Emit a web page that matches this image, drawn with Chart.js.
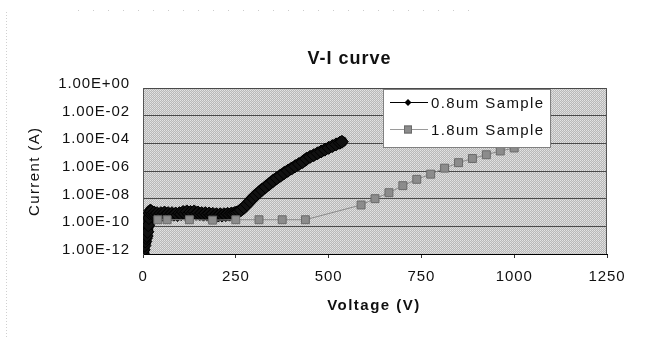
<!DOCTYPE html>
<html>
<head>
<meta charset="utf-8">
<script src="https://cdn.jsdelivr.net/npm/chart.js@4.4.0/dist/chart.umd.min.js"></script>
<style>
html,body{margin:0;padding:0;background:#fff;}
#wrap{width:656px;height:339px;position:relative;}
</style>
</head>
<body>
<div id="wrap"><canvas id="c" width="656" height="339"></canvas></div>
<script>
// ---- data ----
const chartTitle = "V-I curve";
const xAxisTitle = "Voltage (V)";
const yAxisTitle = "Current (A)";
const seriesNames = ["0.8um Sample", "1.8um Sample"];

const voltage08 = [0, 2, 4, 6, 8, 10, 12, 14, 16, 18, 20,
  22, 26, 30, 34, 38, 43, 48, 53, 58, 63, 68, 73, 78, 83, 88, 93, 98, 103, 108, 113,
  118, 123, 128, 133, 138, 143, 148, 153, 158, 163, 168, 173, 178, 183, 188, 193, 198, 203,
  208, 213, 218, 223, 228, 233, 238, 243, 248, 253, 258,
  264, 272, 280, 288, 296, 304, 312, 320, 330, 340, 350, 360, 370, 380, 390, 400, 410, 420, 430, 440,
  450, 460, 470, 480, 490, 500, 510, 520, 530, 536];
const current08 = [1.0e-12, 2.0e-12, 4e-12, 8e-12, 1.4e-11, 2.0e-11, 4e-11, 1.2e-10, 4e-10, 9e-10, 1.4e-9,
  1.2e-9, 8e-10, 1.0e-9, 7e-10, 9e-10, 6.5e-10, 9e-10, 7e-10, 1.0e-9, 7e-10, 9e-10, 6.5e-10, 9e-10, 7e-10,
  8.5e-10, 6.5e-10, 9e-10, 7.5e-10, 1.1e-9, 8e-10,
  1.2e-9, 8e-10, 1.1e-9, 8.5e-10, 1.2e-9, 8e-10, 1.0e-9, 7.5e-10, 9e-10, 7e-10, 9e-10, 7e-10, 8.5e-10,
  6.5e-10, 8e-10, 6e-10, 7.5e-10, 6e-10,
  7.5e-10, 6e-10, 7.5e-10, 6.5e-10, 8e-10, 7e-10, 8.5e-10, 8e-10, 9.5e-10, 1.0e-9, 1.2e-9,
  1.5e-9, 2.3e-9, 3.8e-9, 6.5e-9, 1.1e-8, 1.8e-8, 2.8e-8, 4.3e-8, 7e-8, 1.15e-7,
  1.9e-7, 3e-7, 4.6e-7, 7e-7, 1.05e-6, 1.5e-6, 2.2e-6, 3.2e-6, 4.5e-6, 7.5e-6,
  1.05e-5, 1.4e-5, 1.9e-5, 2.6e-5, 3.5e-5, 4.7e-5, 6.3e-5, 8.4e-5, 1.1e-4, 1.3e-4];

const voltage18 = [40, 65, 125, 187.5, 250, 312.5, 375, 437.5, 587.5, 625, 662.5, 700, 737.5,
  775, 812.5, 850, 887.5, 925, 962.5, 1000];
const current18 = [3e-10, 3e-10, 3e-10, 2.8e-10, 3e-10, 3e-10, 3e-10, 3e-10, 3.5e-9, 1e-8, 2.7e-8,
  8.7e-8, 2.5e-7, 5.9e-7, 1.6e-6, 4e-6, 8e-6, 1.5e-5, 2.8e-5, 4.6e-5];

const xTickValues = [0, 250, 500, 750, 1000, 1250];
const yTickValues = [1e-12, 1e-10, 1e-8, 1e-6, 1e-4, 1e-2, 1];
const yTickLabels = ["1.00E-12", "1.00E-10", "1.00E-08", "1.00E-06", "1.00E-04", "1.00E-02", "1.00E+00"];

// ---- styling helpers ----
const FONT = "Arial, 'Liberation Sans', sans-serif";

function makePattern() {
  const p = document.createElement('canvas');
  p.width = 2; p.height = 2;
  const c = p.getContext('2d');
  c.fillStyle = '#e4e4e4'; c.fillRect(0, 0, 1, 1);
  c.fillStyle = '#b6b6b6'; c.fillRect(1, 0, 1, 1);
  c.fillStyle = '#bababa'; c.fillRect(0, 1, 1, 1);
  c.fillStyle = '#d8d8d8'; c.fillRect(1, 1, 1, 1);
  return p;
}

const decor = {
  id: 'decor',
  beforeDraw(chart) {
    const ctx = chart.ctx, a = chart.chartArea;
    ctx.save();
    ctx.fillStyle = ctx.createPattern(makePattern(), 'repeat');
    ctx.fillRect(a.left, a.top, a.right - a.left, a.bottom - a.top);
    // faint scan edges
    ctx.strokeStyle = '#d0d0d0';
    ctx.lineWidth = 1;
    ctx.setLineDash([1, 2]);
    ctx.beginPath(); ctx.moveTo(6.5, 12); ctx.lineTo(6.5, 339); ctx.stroke();
    ctx.setLineDash([1, 14]);
    ctx.strokeStyle = '#cccccc';
    ctx.beginPath(); ctx.moveTo(78, 10.5); ctx.lineTo(482, 10.5); ctx.stroke();
    ctx.restore();
    ctx.letterSpacing = '0.9px';
  },
  afterDraw(chart) {
    const ctx = chart.ctx, a = chart.chartArea;
    ctx.save();
    // right border of plot
    ctx.strokeStyle = '#555';
    ctx.lineWidth = 1;
    ctx.beginPath();
    ctx.moveTo(Math.round(a.right) - 0.5, a.top);
    ctx.lineTo(Math.round(a.right) - 0.5, a.bottom);
    ctx.stroke();

    // legend
    const lx = 383, ly = 89, lw = 168, lh = 59;
    ctx.fillStyle = '#fff';
    ctx.fillRect(lx, ly, lw, lh);
    ctx.strokeStyle = '#808080';
    ctx.strokeRect(lx + 0.5, ly + 0.5, lw - 1, lh - 1);
    // row 1
    ctx.strokeStyle = '#000';
    ctx.beginPath(); ctx.moveTo(390, 102.5); ctx.lineTo(428, 102.5); ctx.stroke();
    ctx.fillStyle = '#000';
    ctx.beginPath();
    ctx.moveTo(408, 99); ctx.lineTo(411.5, 102.5); ctx.lineTo(408, 106); ctx.lineTo(404.5, 102.5);
    ctx.closePath(); ctx.fill();
    // row 2
    ctx.strokeStyle = '#9a9a9a';
    ctx.beginPath(); ctx.moveTo(390, 129.5); ctx.lineTo(428, 129.5); ctx.stroke();
    ctx.fillStyle = '#8c8c8c';
    ctx.fillRect(404, 125.5, 8, 8);
    ctx.strokeStyle = '#6a6a6a';
    ctx.strokeRect(404.5, 126, 7, 7);
    ctx.fillStyle = '#111';
    ctx.font = '15px ' + FONT;
    ctx.letterSpacing = '1.4px';
    ctx.textAlign = 'left';
    ctx.textBaseline = 'alphabetic';
    ctx.fillText(seriesNames[0], 431, 107.5);
    ctx.fillText(seriesNames[1], 431, 134.5);

    // chart title
    ctx.font = 'bold 18px ' + FONT;
    ctx.letterSpacing = '1px';
    ctx.textAlign = 'center';
    ctx.fillText(chartTitle, 349.5, 64);

    // x axis title
    ctx.font = 'bold 15px ' + FONT;
    ctx.letterSpacing = '1.5px';
    ctx.fillText(xAxisTitle, 374, 309.5);

    // y axis title
    ctx.font = '15px ' + FONT;
    ctx.letterSpacing = '1.4px';
    ctx.translate(39, 172);
    ctx.rotate(-Math.PI / 2);
    ctx.fillText(yAxisTitle, 0.7, 0);
    ctx.restore();
  }
};

Chart.defaults.color = '#111';
Chart.defaults.font.family = FONT;

new Chart(document.getElementById('c'), {
  type: 'scatter',
  data: {
    datasets: [
      {
        label: seriesNames[0],
        data: voltage08.map((v, i) => ({ x: v, y: current08[i] })),
        showLine: true,
        borderColor: '#050505',
        borderWidth: 11,
        borderJoinStyle: 'round',
        borderCapStyle: 'round',
        backgroundColor: '#111',
        pointStyle: 'rectRot',
        pointRadius: 6.5,
        pointBorderWidth: 1,
        pointBorderColor: '#000',
        pointBackgroundColor: '#111',
        order: 2
      },
      {
        label: seriesNames[1],
        data: voltage18.map((v, i) => ({ x: v, y: current18[i] })),
        showLine: true,
        borderColor: '#8a8a8a',
        borderWidth: 1,
        backgroundColor: '#8c8c8c',
        pointStyle: 'rect',
        pointRadius: 5.6,
        pointBorderWidth: 1,
        pointBorderColor: '#6a6a6a',
        pointBackgroundColor: '#8c8c8c',
        order: 1
      }
    ]
  },
  options: {
    responsive: false,
    animation: false,
    devicePixelRatio: 1,
    layout: { padding: { top: 88, right: 49, left: 0, bottom: 0 } },
    plugins: {
      legend: { display: false },
      tooltip: { enabled: false },
      title: { display: false }
    },
    scales: {
      x: {
        type: 'linear',
        min: 0, max: 1250,
        afterBuildTicks: s => { s.ticks = xTickValues.map(v => ({ value: v })); },
        afterFit: s => { s.height = 85; },
        grid: { drawOnChartArea: false, drawTicks: true, tickLength: 4, color: '#333' },
        border: { display: true, color: '#000', width: 1 },
        ticks: {
          font: { size: 15 }, padding: 10, maxRotation: 0, color: '#111',
          callback: (v) => String(v)
        }
      },
      y: {
        type: 'logarithmic',
        min: 1e-12, max: 1,
        afterBuildTicks: s => { s.ticks = yTickValues.map(v => ({ value: v })); },
        afterFit: s => { s.width = 143; },
        grid: { color: '#4a4a4a', lineWidth: 1, drawTicks: false },
        border: { display: true, color: '#555', width: 1 },
        ticks: {
          font: { size: 15 },
          padding: 13,
          labelOffset: -4,
          color: '#111',
          callback: (v) => {
            const k = yTickValues.findIndex(t => Math.abs(Math.log10(t) - Math.log10(v)) < 1e-6);
            return k >= 0 ? yTickLabels[k] : '';
          }
        }
      }
    }
  },
  plugins: [decor]
});
</script>
</body>
</html>
